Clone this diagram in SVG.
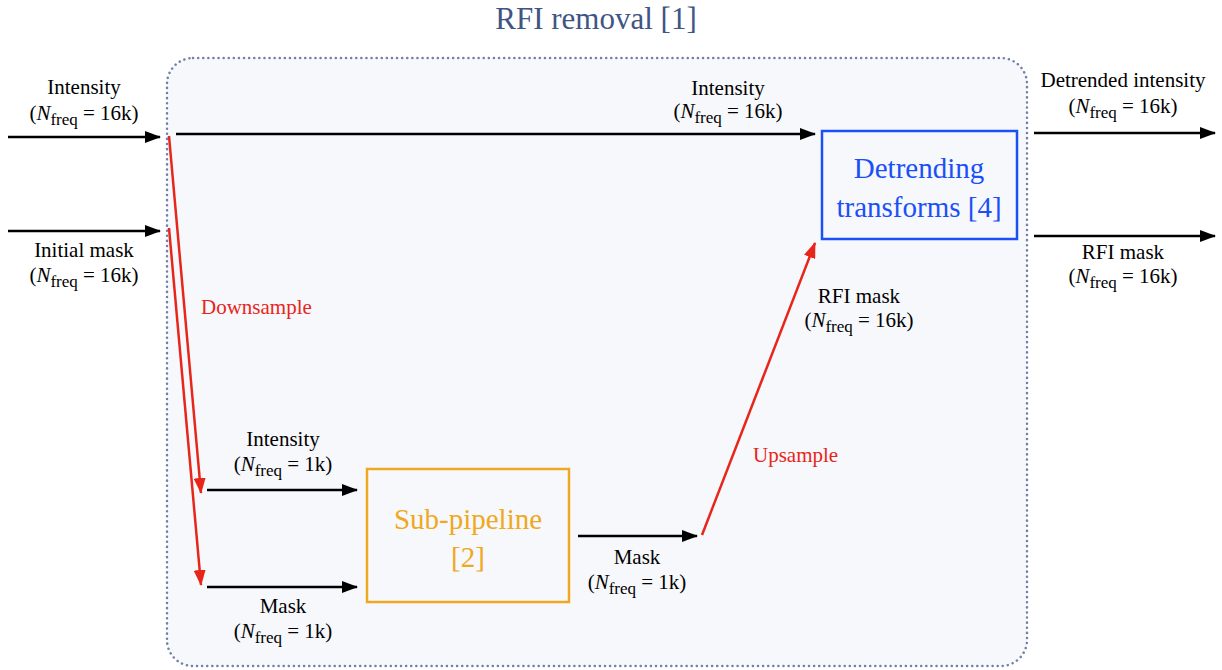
<svg xmlns="http://www.w3.org/2000/svg" width="1222" height="670" viewBox="0 0 1222 670" font-family="'Liberation Serif', 'Times New Roman', 'DejaVu Serif', serif">
<defs>
<marker id="ab" viewBox="0 0 16 12" refX="15" refY="6" markerWidth="16" markerHeight="12" markerUnits="userSpaceOnUse" orient="auto"><path d="M0,0 L16,6 L0,12 z" fill="#000"/></marker>
<marker id="ar" viewBox="0 0 16 12" refX="15" refY="6" markerWidth="16" markerHeight="12" markerUnits="userSpaceOnUse" orient="auto"><path d="M0,0 L16,6 L0,12 z" fill="#e8251a"/></marker>
</defs>
<style>
.lbl{font-size:21px;fill:#000;text-anchor:middle;}
.sub{font-size:17px;}
.it{font-style:italic;}
.blk{stroke:#000;stroke-width:2.5;fill:none;marker-end:url(#ab);}
.red{stroke:#e8251a;stroke-width:2.5;fill:none;marker-end:url(#ar);}
.redt{font-size:21px;fill:#e8251a;}
</style>
<rect width="1222" height="670" fill="#fff"/>
<g id="container">
<rect x="167" y="58" width="860" height="608" rx="26" ry="26" fill="#f7f8fc" stroke="#7080a8" stroke-width="2.5" stroke-dasharray="0.1 5" stroke-linecap="round"/>
<text x="596" y="29" font-size="31" fill="#3f5584" text-anchor="middle">RFI removal [1]</text>
</g>
<g id="detrending">
<rect x="822" y="131" width="195" height="108" fill="none" stroke="#1a50f5" stroke-width="2.5"/>
<text x="919" y="178" font-size="29" fill="#1a50f5" text-anchor="middle">Detrending</text>
<text x="919" y="217" font-size="29" fill="#1a50f5" text-anchor="middle">transforms [4]</text>
</g>
<g id="subpipeline">
<rect x="367" y="469" width="202" height="133" fill="none" stroke="#f0a820" stroke-width="2.5"/>
<text x="468" y="529" font-size="29" fill="#f0a820" text-anchor="middle">Sub-pipeline</text>
<text x="468" y="567" font-size="29" fill="#f0a820" text-anchor="middle">[2]</text>
</g>
<g id="connectors">
<line x1="8" y1="137" x2="160" y2="137" class="blk"/>
<line x1="8" y1="231" x2="160" y2="231" class="blk"/>
<line x1="176" y1="134" x2="815" y2="134" class="blk"/>
<line x1="1034" y1="133" x2="1215" y2="133" class="blk"/>
<line x1="1034" y1="236" x2="1215" y2="236" class="blk"/>
<line x1="207" y1="490" x2="357" y2="490" class="blk"/>
<line x1="207" y1="587" x2="357" y2="587" class="blk"/>
<line x1="578" y1="536" x2="697" y2="536" class="blk"/>
<line x1="169" y1="136" x2="201" y2="493" class="red"/>
<line x1="169" y1="228" x2="201" y2="585" class="red"/>
<line x1="702" y1="535" x2="815" y2="243" class="red"/>
</g>
<g id="labels">
<text class="lbl" x="84" y="94">Intensity</text>
<text class="lbl" x="84" y="120">(<tspan class="it">N</tspan><tspan class="sub" dy="5">freq</tspan><tspan dy="-5"> = 16k)</tspan></text>
<text class="lbl" x="84" y="257">Initial mask</text>
<text class="lbl" x="84" y="282">(<tspan class="it">N</tspan><tspan class="sub" dy="5">freq</tspan><tspan dy="-5"> = 16k)</tspan></text>
<text class="lbl" x="728" y="95">Intensity</text>
<text class="lbl" x="728" y="118">(<tspan class="it">N</tspan><tspan class="sub" dy="5">freq</tspan><tspan dy="-5"> = 16k)</tspan></text>
<text class="lbl" x="1123" y="87">Detrended intensity</text>
<text class="lbl" x="1123" y="113">(<tspan class="it">N</tspan><tspan class="sub" dy="5">freq</tspan><tspan dy="-5"> = 16k)</tspan></text>
<text class="lbl" x="1123" y="259">RFI mask</text>
<text class="lbl" x="1123" y="283">(<tspan class="it">N</tspan><tspan class="sub" dy="5">freq</tspan><tspan dy="-5"> = 16k)</tspan></text>
<text class="lbl" x="283" y="446">Intensity</text>
<text class="lbl" x="283" y="471">(<tspan class="it">N</tspan><tspan class="sub" dy="5">freq</tspan><tspan dy="-5"> = 1k)</tspan></text>
<text class="lbl" x="283" y="613">Mask</text>
<text class="lbl" x="283" y="638">(<tspan class="it">N</tspan><tspan class="sub" dy="5">freq</tspan><tspan dy="-5"> = 1k)</tspan></text>
<text class="lbl" x="637" y="564">Mask</text>
<text class="lbl" x="637" y="589">(<tspan class="it">N</tspan><tspan class="sub" dy="5">freq</tspan><tspan dy="-5"> = 1k)</tspan></text>
<text class="lbl" x="859" y="303">RFI mask</text>
<text class="lbl" x="859" y="327">(<tspan class="it">N</tspan><tspan class="sub" dy="5">freq</tspan><tspan dy="-5"> = 16k)</tspan></text>
<text class="redt" x="201" y="314">Downsample</text>
<text class="redt" x="753" y="462">Upsample</text>
</g>
</svg>
